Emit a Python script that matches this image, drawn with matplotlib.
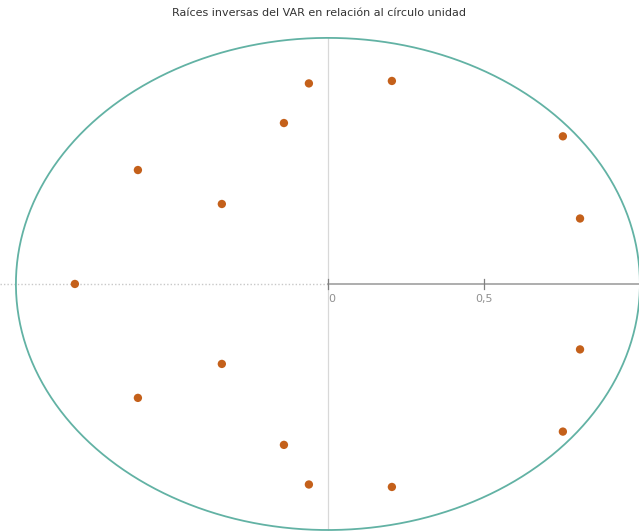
import numpy as np
import matplotlib
matplotlib.use("Agg")
import matplotlib.pyplot as plt

# === Raíces inversas (parte real, parte imaginaria) ===
re_roots = [-0.061, 0.205, -0.141, 0.753, -0.609, -0.340, 0.808, -0.811,
            0.808, -0.340, -0.609, 0.753, -0.141, -0.061, 0.205]
im_roots = [0.815, 0.825, 0.654, 0.600, 0.463, 0.325, 0.266, 0.0,
            -0.266, -0.325, -0.463, -0.600, -0.654, -0.815, -0.825]
tick_vals = [0, 0.5]
tick_labels = ["0", "0,5"]
title = "Raíces inversas del VAR en relación al círculo unidad"

fig = plt.figure(figsize=(6.39, 5.31), dpi=100)
ax = fig.add_axes([0, 0, 1, 1])
ax.set_xlim(-1.051, 0.997)
ax.set_ylim(-1.004, 1.154)
ax.axis("off")

# --- círculo unidad ---
t = np.linspace(0, 2 * np.pi, 400)
ax.plot(np.cos(t), np.sin(t), color="#62b2a4", lw=1.3, zorder=2)

# --- ejes ---
ax.plot([-1.05, 0], [0, 0], color="#c8c8c8", lw=1, ls=(0, (1, 1.5)), zorder=1)
ax.plot([0, 1.0], [0, 0], color="#a0a0a0", lw=1.2, zorder=1)
ax.plot([0, 0], [-1.0, 1.0], color="#d8d8d8", lw=0.9, zorder=1)
for v, lab in zip(tick_vals, tick_labels):
    ax.plot([v, v], [-0.02, 0.02], color="#808080", lw=0.9, zorder=1)
    ax.text(v, -0.04, lab, ha="left" if v == 0 else "center", va="top",
            fontsize=8, color="#909090")

# --- raíces ---
ax.scatter(re_roots, im_roots, s=36, color="#c4601a", zorder=3, edgecolors="none")

fig.text(0.5, 0.975, title, ha="center", va="center", fontsize=8, color="#333333")

fig.savefig("out.png", dpi=100)
